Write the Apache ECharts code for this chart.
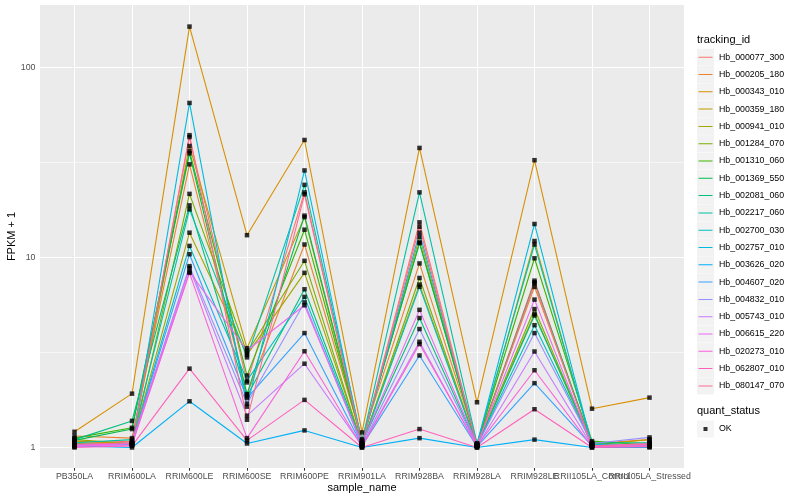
<!DOCTYPE html>
<html><head><meta charset="utf-8">
<script src="https://cdn.jsdelivr.net/npm/echarts@6/dist/echarts.min.js"></script>
<style>html,body{margin:0;padding:0;background:#fff}#c{width:800px;height:500px}</style>
</head><body><div id="c"></div>
<script>
// ---- data ----
const samples = ['PB350LA','RRIM600LA','RRIM600LE','RRIM600SE','RRIM600PE','RRIM901LA','RRIM928BA','RRIM928LA','RRIM928LE','RRII105LA_Control','RRII105LA_Stressed'];
const geneIds = ['Hb_000077_300','Hb_000205_180','Hb_000343_010','Hb_000359_180','Hb_000941_010','Hb_001284_070','Hb_001310_060','Hb_001369_550','Hb_002081_060','Hb_002217_060','Hb_002700_030','Hb_002757_010','Hb_003626_020','Hb_004607_020','Hb_004832_010','Hb_005743_010','Hb_006615_220','Hb_020273_010','Hb_062807_010','Hb_080147_070'];
const hb_000077_300 = [1.05,1.08,43,2.2,22.0,1.05,15.3,1.03,7.55,1.02,1.03];
const hb_000205_180 = [1.15,1.12,30.9,1.9,11.7,1.10,9.3,1.05,7.0,1.05,1.10];
const hb_000343_010 = [1.21,1.92,164,13.1,41.5,1.20,37.7,1.73,32.5,1.60,1.83];
const hb_000359_180 = [1.08,1.05,38.6,3.33,16.3,1.05,12.8,1.02,12.2,1.03,1.10];
const hb_000941_010 = [1.10,1.05,13.5,3.07,8.3,1.05,7.2,1.03,5.05,1.02,1.05];
const hb_001284_070 = [1.05,1.03,21.6,3.15,9.6,1.03,7.8,1.02,5.35,1.03,1.04];
const hb_001310_060 = [1.12,1.27,36.3,2.39,14.0,1.08,12.0,1.04,9.9,1.08,1.03];
const hb_001369_550 = [1.09,1.25,35.3,1.91,16.6,1.10,11.9,1.03,7.4,1.05,1.03];
const hb_002081_060 = [1.10,1.38,18.8,1.86,6.8,1.05,4.8,1.02,4.95,1.06,1.06];
const hb_002217_060 = [1.06,1.10,17.9,2.98,24.1,1.08,22.0,1.05,11.7,1.04,1.02];
const hb_002700_030 = [1.04,1.05,11.5,2.25,6.2,1.03,7.0,1.02,4.4,1.04,1.03];
const hb_002757_010 = [1.03,1.04,65,1.64,28.7,1.04,13.5,1.04,15.0,1.03,1.02];
const hb_003626_020 = [1.02,1.00,1.75,1.05,1.23,1.00,1.12,1.00,1.10,1.00,1.00];
const hb_004607_020 = [1.03,1.05,10.4,1.82,4.0,1.02,3.05,1.01,2.18,1.02,1.02];
const hb_004832_010 = [1.02,1.04,9.0,1.70,5.8,1.02,4.2,1.02,4.0,1.05,1.13];
const hb_005743_010 = [1.01,1.06,8.8,1.47,2.76,1.02,3.6,1.01,3.2,1.02,1.03];
const hb_006615_220 = [1.02,1.03,8.4,3.24,5.6,1.05,5.3,1.03,6.0,1.02,1.05];
const hb_020273_010 = [1.03,1.05,8.3,1.12,3.21,1.01,3.5,1.02,2.55,1.01,1.02];
const hb_062807_010 = [1.00,1.02,2.6,1.09,1.78,1.00,1.25,1.00,1.59,1.00,1.01];
const hb_080147_070 = [1.04,1.06,44,1.40,21.5,1.05,14.5,1.02,7.3,1.02,1.04];
const geneValues = [hb_000077_300,hb_000205_180,hb_000343_010,hb_000359_180,hb_000941_010,hb_001284_070,hb_001310_060,hb_001369_550,hb_002081_060,hb_002217_060,hb_002700_030,hb_002757_010,hb_003626_020,hb_004607_020,hb_004832_010,hb_005743_010,hb_006615_220,hb_020273_010,hb_062807_010,hb_080147_070];
const yTicks = [1, 10, 100];
const yMinorTicks = [3.1623, 31.623];
const statusNames = ['OK'];

// ---- styles ----
const palette = ['#F8766D','#EA8331','#D89000','#C09B00','#A3A500','#7CAE00','#39B600','#00BB4E','#00BF7D','#00C1A3','#00BFC4','#00BAE0','#00B0F6','#35A2FF','#9590FF','#C77CFF','#E76BF3','#FA62DB','#FF62BC','#FF6C91'];
const FONT = '"Liberation Sans", Arial, Helvetica, sans-serif';
const lineIcon = 'path://M0,0L0.01,0L0,0.01ZM1.5,8L15.5,8L15.5,9L1.5,9ZM17,17L16.99,17L17,16.99Z';
const squareIcon = 'path://M0,0L0.01,0L0,0.01ZM6.5,6.5L10.5,6.5L10.5,10.5L6.5,10.5ZM17,17L16.99,17L17,16.99Z';

const chart = echarts.init(document.getElementById('c'));

const lineSeries = geneIds.map((id, g) => ({
  type: 'line', name: id, xAxisIndex: 0,
  data: geneValues[g].map((v, i) => [i, v]),
  showSymbol: false, symbol: 'none',
  color: palette[g],
  lineStyle: { width: 1.1, color: palette[g] },
  z: 2, silent: true, emphasis: { disabled: true }
}));
const pts = [];
geneValues.forEach(arr => arr.forEach((v, i) => pts.push([i, v])));
const pointSeries = {
  type: 'scatter', name: statusNames[0], data: pts, xAxisIndex: 0,
  symbol: 'rect', symbolSize: 4.5, color: '#000', itemStyle: { color: '#000' },
  z: 3, silent: true
};
const wl = (w) => ({ color: '#ffffff', width: w, type: 'solid' });
const gridSeries = {
  type: 'line', name: '__grid', data: [], z: 1, silent: true, xAxisIndex: 0,
  markLine: {
    z: 1, silent: true, symbol: 'none', label: { show: false }, animation: false,
    emphasis: { disabled: true },
    data: [
      ...yMinorTicks.map(v => ({ yAxis: v, lineStyle: wl(0.55) })),
      ...yTicks.map(v => ({ yAxis: v, lineStyle: wl(1.07) })),
      ...samples.map((s, i) => ({ xAxis: i, lineStyle: wl(1.07) }))
    ]
  }
};

const legendBase = {
  orient: 'vertical', left: 697, itemWidth: 17, itemHeight: 17, itemGap: 0.3,
  padding: 0, selectedMode: false
};

// two overlaid x axes (even / odd categories) so that overlapping neighbour labels are all kept
const idx = samples.map((s, i) => i);
const evenIdx = idx.filter(i => i % 2 === 0);
const oddIdx = idx.filter(i => i % 2 === 1);
const xAxisBase = (vals, withName) => ({
  type: 'value', min: -0.6, max: 10.6, position: 'bottom',
  name: withName ? 'sample_name' : '', nameLocation: 'middle', nameGap: 14, nameMoveOverlap: false,
  nameTextStyle: { fontSize: 11, color: '#000', fontFamily: FONT },
  axisLine: { show: false },
  splitLine: { show: false },
  axisTick: { show: true, length: 2.7, customValues: vals, lineStyle: { color: '#333333', width: 1.07 } },
  axisLabel: { customValues: vals, formatter: v => samples[Math.round(v)], color: '#4D4D4D', fontSize: 8.8, margin: 4.5, fontFamily: FONT,
    interval: 0, hideOverlap: false, showMinLabel: true, showMaxLabel: true }
});

chart.setOption({
  animation: false,
  textStyle: { fontFamily: FONT },
  title: [
    { text: 'tracking_id', left: 697, top: 34, padding: 0, textStyle: { fontSize: 11, fontWeight: 'normal', color: '#000', fontFamily: FONT } },
    { text: 'quant_status', left: 697, top: 405, padding: 0, textStyle: { fontSize: 11, fontWeight: 'normal', color: '#000', fontFamily: FONT } }
  ],
  grid: { left: 40, right: 116, top: 5, bottom: 32, show: true, backgroundColor: '#EBEBEB', borderWidth: 0, containLabel: false, outerBoundsMode: 'none' },
  xAxis: [xAxisBase(evenIdx, true), xAxisBase(oddIdx, false)],
  yAxis: {
    type: 'log', logBase: 10, min: 0.78, max: 213,
    name: 'FPKM + 1', nameLocation: 'middle', nameGap: 22.5, nameMoveOverlap: false,
    nameTextStyle: { fontSize: 11, color: '#000', fontFamily: FONT },
    axisLine: { show: false },
    splitLine: { show: false },
    axisTick: { show: true, length: 2.7, customValues: yTicks, lineStyle: { color: '#333333', width: 1.07 } },
    axisLabel: { customValues: yTicks, formatter: v => String(Math.round(v)), color: '#4D4D4D', fontSize: 8.8, margin: 4.5, fontFamily: FONT }
  },
  legend: [
    Object.assign({}, legendBase, { top: 48.7, z: 3, data: geneIds, icon: 'rect',
      itemStyle: { color: '#F2F2F2', borderWidth: 0 }, textStyle: { color: 'rgba(0,0,0,0)', fontSize: 8.8, fontFamily: FONT } }),
    Object.assign({}, legendBase, { top: 48.7, z: 4, data: geneIds, icon: lineIcon,
      itemStyle: { borderWidth: 0 }, textStyle: { color: '#000', fontSize: 8.8, fontFamily: FONT } }),
    Object.assign({}, legendBase, { top: 420.5, z: 3, data: statusNames, icon: 'rect',
      itemStyle: { color: '#F2F2F2', borderWidth: 0 }, textStyle: { color: 'rgba(0,0,0,0)', fontSize: 8.8, fontFamily: FONT } }),
    Object.assign({}, legendBase, { top: 420.5, z: 4, data: statusNames, icon: squareIcon,
      itemStyle: { color: '#000', borderWidth: 0 }, textStyle: { color: '#000', fontSize: 8.8, fontFamily: FONT } })
  ],
  series: [gridSeries, ...lineSeries, pointSeries]
});
</script>
</body></html>
